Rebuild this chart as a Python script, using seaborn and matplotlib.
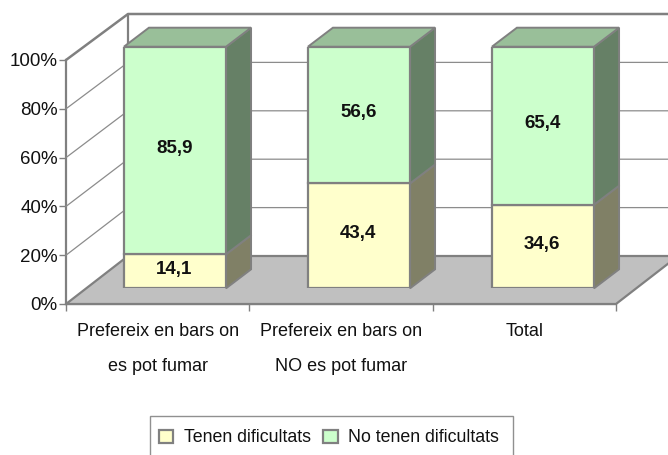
import numpy as np
import matplotlib
matplotlib.use("Agg")
import matplotlib.pyplot as plt
from matplotlib.patches import Polygon, Patch, Rectangle
import seaborn as sns

categories = ["Prefereix en bars on\nes pot fumar", "Prefereix en bars on\nNO es pot fumar", "Total"]
tenen = [14.1, 43.4, 34.6]
no_tenen = [85.9, 56.6, 65.4]
value_labels_tenen = ["14,1", "43,4", "34,6"]
value_labels_no = ["85,9", "56,6", "65,4"]
y_ticks = [0, 20, 40, 60, 80, 100]
legend_names = ["Tenen dificultats", "No tenen dificultats"]

W, H = 668, 455
GREY = "#808080"
YELLOW, YELLOW_SIDE = "#FFFFCC", "#808066"
GREEN, GREEN_SIDE, GREEN_TOP = "#CCFFCC", "#668066", "#99BF99"
TEXT = "#111111"

sns.set_theme(style="white")
plt.rcParams["font.family"] = ["Liberation Sans", "DejaVu Sans"]


def box(left, top, right, bottom):
    return [left / W, 1 - bottom / H, (right - left) / W, (bottom - top) / H]


fig = plt.figure(figsize=(W / 100, H / 100), dpi=100)

# axes of the front wall, it carries the ticks
ax = fig.add_axes(box(66, 60, 616, 304))
ax.set_xlim(-0.5, 2.5)
ax.set_ylim(0, 100)
ax.patch.set_alpha(0)
sns.despine(ax=ax, top=True, right=True)
for s in ["left", "bottom"]:
    ax.spines[s].set_color(GREY)
    ax.spines[s].set_linewidth(1.6)
ax.set_xticks(range(3))
ax.set_xticklabels(categories, fontsize=13, linespacing=2.35, color=TEXT)
ax.set_xticks([-0.5, 0.5, 1.5, 2.5], minor=True)
ax.set_yticks(y_ticks)
ax.set_yticklabels([f"{t}%" for t in y_ticks], fontsize=13.5, color=TEXT)
ax.tick_params(axis="x", which="major", length=0, pad=14)
ax.tick_params(axis="x", which="minor", length=5, width=1, color=GREY, bottom=True)
ax.tick_params(axis="y", length=5, width=1, color=GREY, left=True, pad=1)

# back wall, same scales further in depth
wx = fig.add_axes(box(128, 14, 678, 256))
wx.set_xlim(-0.5, 2.5)
wx.set_ylim(0, 100)
wx.axis("off")
wx.patch.set_alpha(0)

# floor between the two walls
floor = [(-0.5, 0), (2.5, 0)]
front_floor = [ax.transData.transform(p) for p in floor]
back_floor = [wx.transData.transform(p) for p in floor[::-1]]
wx.add_patch(Polygon(front_floor + back_floor, closed=True, transform=None, facecolor="#C0C0C0",
                     edgecolor=GREY, linewidth=1.6, clip_on=False, zorder=1))
for t in y_ticks[1:]:
    lw, col = (1.8, GREY) if t == 100 else (0.9, "#8c8c8c")
    a = ax.transData.transform((-0.5, t))
    b = wx.transData.transform((-0.5, t))
    c = wx.transData.transform((2.5, t))
    wx.plot([a[0], b[0], c[0]], [a[1], b[1], c[1]], transform=None, color=col, lw=lw,
            clip_on=False, zorder=1)
a = wx.transData.transform((-0.5, 0))
b = wx.transData.transform((-0.5, 100))
wx.plot([a[0], b[0]], [a[1], b[1]], transform=None, color=GREY, lw=1.6, clip_on=False, zorder=1)

# bars live in their own axes, at the depth of the front face
bx = fig.add_axes(box(83, 46.7, 635, 288.3))
sns.barplot(x=categories, y=tenen, ax=bx, color=YELLOW, width=0.555, saturation=1,
            edgecolor=GREY, linewidth=1.6, zorder=3)
sns.barplot(x=categories, y=no_tenen, bottom=tenen, ax=bx, color=GREEN, width=0.555, saturation=1,
            edgecolor=GREY, linewidth=1.6, zorder=3)
bx.set_xlim(-0.5, 2.5)
bx.set_ylim(0, 100)
bx.axis("off")
bx.patch.set_alpha(0)

# side and top faces of each bar
DX, DY = 25, 19
half = 0.555 / 2
for i in range(3):
    edges = [0, tenen[i], tenen[i] + no_tenen[i]]
    for j, col in enumerate([YELLOW_SIDE, GREEN_SIDE]):
        p0 = bx.transData.transform((i + half, edges[j]))
        p1 = bx.transData.transform((i + half, edges[j + 1]))
        pts = [p0, p1, p1 + [DX, DY], p0 + [DX, DY]]
        bx.add_patch(Polygon(pts, closed=True, transform=None, facecolor=col, edgecolor=GREY,
                             linewidth=1.4, clip_on=False, zorder=2))
    p0 = bx.transData.transform((i - half, edges[2]))
    p1 = bx.transData.transform((i + half, edges[2]))
    pts = [p0, p1, p1 + [DX, DY], p0 + [DX, DY]]
    bx.add_patch(Polygon(pts, closed=True, transform=None, facecolor=GREEN_TOP, edgecolor=GREY,
                         linewidth=1.4, clip_on=False, zorder=2))
    bx.annotate(value_labels_tenen[i], (i, tenen[i] / 2), xytext=(-0.5, 1.5), textcoords="offset points",
                ha="center", va="center", fontsize=13.5, fontweight="bold", color=TEXT, zorder=5)
    bx.annotate(value_labels_no[i], (i, tenen[i] + no_tenen[i] / 2), xytext=(-0.5, 1.5),
                textcoords="offset points", ha="center", va="center", fontsize=13.5,
                fontweight="bold", color=TEXT, zorder=5)

# legend frame runs past the bottom of the picture
fig.add_artist(Rectangle((149.5 / W, 1 - 462 / H), 363 / W, 46 / H, transform=fig.transFigure,
                         facecolor="white", edgecolor="#909090", linewidth=1))
handles = [Patch(facecolor=YELLOW, edgecolor=GREY, linewidth=1.6),
           Patch(facecolor=GREEN, edgecolor=GREY, linewidth=1.6)]
fig.legend(handles, legend_names, loc="center", bbox_to_anchor=(329 / W, 1 - 438 / H), ncol=2,
           fontsize=12.8, frameon=False, handlelength=0.8, handleheight=0.8, handletextpad=0.6,
           columnspacing=0.7, borderpad=0, borderaxespad=0, labelcolor=TEXT)

fig.savefig("out.png", dpi=100)
